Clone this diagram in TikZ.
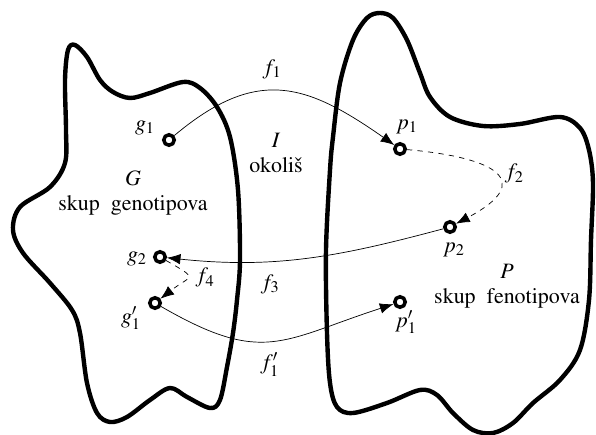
\documentclass[tikz,border=0pt]{standalone}
\usepackage[T1]{fontenc}
\usepackage{mathptmx}
\usetikzlibrary{arrows.meta}

\begin{document}
\begin{tikzpicture}[
  x=0.02cm, y=-0.02cm,
  font=\fontsize{12.5}{14}\selectfont,
  >={Latex[length=2.7mm,width=2.1mm]},
  blob/.style={line width=2.5pt, line join=round},
  pt/.style={circle, draw, line width=2pt, minimum size=0.21cm, inner sep=0pt, fill=white},
  map/.style={->, thin},
  mapd/.style={->, thin, dashed},
  lbl/.style={inner sep=1pt},
]
\useasboundingbox (0,0) rectangle (596,435);

% Sets (outlines)
\draw[blob] plot[smooth cycle, tension=0.55] coordinates {
  (75,45) (87,57) (100,80) (113,92) (130,98) (150,93) (183,82) (200,88)
  (217,107) (230,137) (238,190) (240,260) (237,300) (233,333) (227,367)
  (220,400) (210,408) (187,397) (170,388) (150,400) (127,417) (110,422)
  (97,413) (87,383) (80,333) (72,310) (50,283) (23,253) (13,230) (20,207)
  (50,187) (65,163) (66,130) (65,80) (68,50)};
\draw[blob] plot[smooth cycle, tension=0.55] coordinates {
  (380,13) (393,18) (407,40) (420,73) (430,97) (450,117) (483,126)
  (520,124) (560,117) (580,128) (589,150) (593,183) (591,240) (589,300)
  (580,350) (560,380) (533,403) (513,423) (493,433) (473,430) (453,413)
  (437,395) (420,390) (387,403) (353,413) (337,407) (330,383) (327,333)
  (326,250) (330,170) (333,137) (340,83) (353,40) (367,18)};

% Set names
\node[align=center] (gset) at (133,193) {$G$\\skup~~genotipova};
\node[align=center] (iset) at (276,153) {$I$\\okoli\v{s}};
\node[align=center] (pset) at (507,286) {$P$\\skup~~fenotipova};

% Elements
\node[pt] (g1) at (169,140) {};
\node[pt] (g2) at (160,257) {};
\node[pt] (g1p) at (155,303) {};
\node[pt] (p1) at (400,149) {};
\node[pt] (p2) at (450,227) {};
\node[pt] (p1p) at (400,302) {};

\node[lbl] (g1l) at (145,128) {$g_1$};
\node[lbl] (g2l) at (137,259) {$g_2$};
\node[lbl] (g1pl) at (131,318) {$g'_1$};
\node[lbl] (p1l) at (407,127) {$p_1$};
\node[lbl] (p2l) at (454,250) {$p_2$};
\node[lbl] (p1pl) at (406,322) {$p'_1$};

% Mappings
\draw[map] (g1) to[out=40, in=145, looseness=1.25]
  node[pos=0.45, above=3pt] {$f_1$} (p1);
\draw[mapd] (p1) to[out=-5, in=28, looseness=2.6]
  node[pos=0.5, right=2pt] {$f_2$} (p2);
\draw[map] (p2) to[out=195, in=-6]
  node[pos=0.64, below=4pt] {$f_3$} (g2);
\draw[mapd] (g2) to[out=-30, in=38, looseness=2.6]
  node[pos=0.5, right=1pt] {$f_4$} (g1p);
\draw[map] (g1p) to[out=-30, in=198, looseness=1.3]
  node[pos=0.48, below=3pt] {$f'_1$} (p1p);

\end{tikzpicture}
\end{document}
